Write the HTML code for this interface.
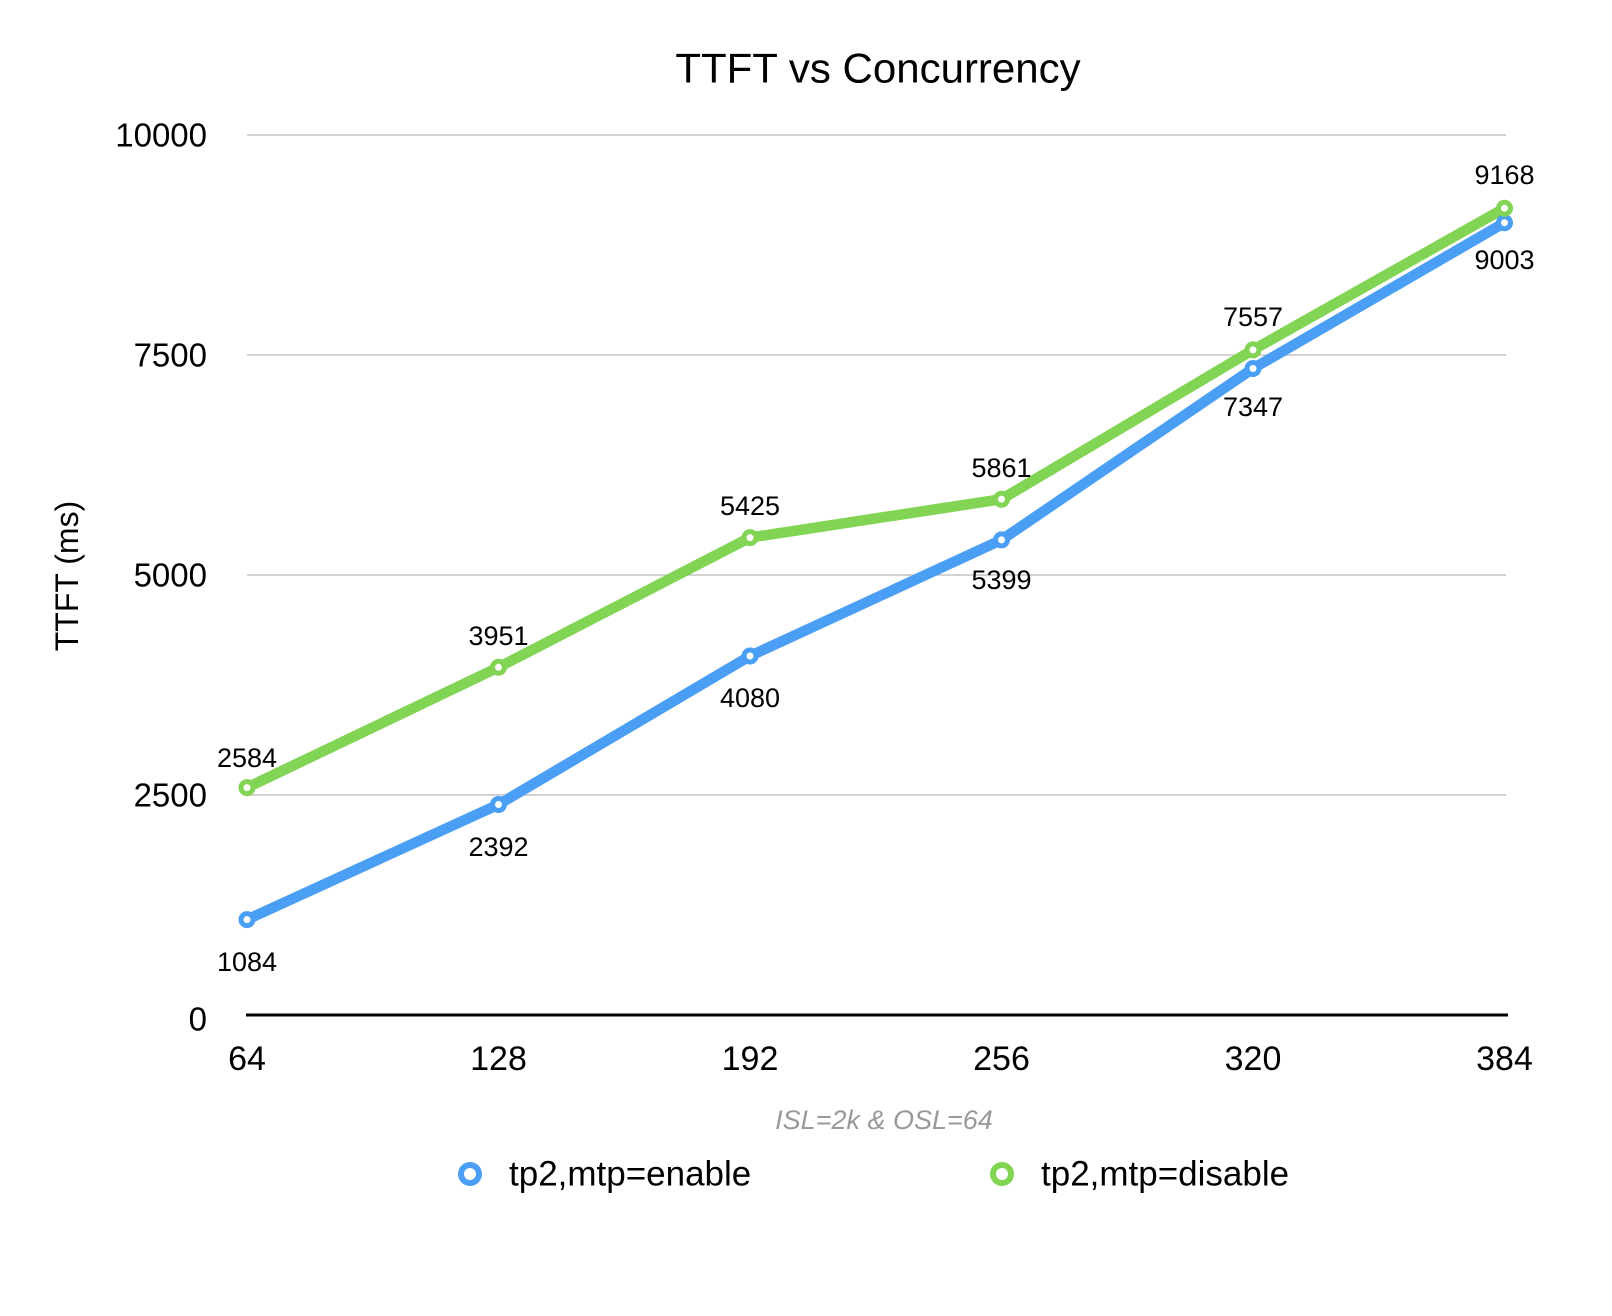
<!DOCTYPE html>
<html><head><meta charset="utf-8"><style>html,body{margin:0;padding:0;background:#fff}svg{display:block}</style></head>
<body>
<svg width="1612" height="1316" viewBox="0 0 1612 1316" xmlns="http://www.w3.org/2000/svg" font-family="Liberation Sans, sans-serif">
<rect width="1612" height="1316" fill="#fff"/>
<text x="878" y="68" font-size="42" text-anchor="middle" dominant-baseline="central">TTFT vs Concurrency</text>
<g stroke="#c4c4c4" stroke-width="1.5">
<line x1="247" x2="1506" y1="135" y2="135"/>
<line x1="247" x2="1506" y1="355" y2="355"/>
<line x1="247" x2="1506" y1="575" y2="575"/>
<line x1="247" x2="1506" y1="795" y2="795"/>
</g>
<line x1="246" x2="1508" y1="1015" y2="1015" stroke="#000" stroke-width="3"/>
<g font-size="33" text-anchor="end" dominant-baseline="central">
<text x="207" y="135">10000</text><text x="207" y="355">7500</text><text x="207" y="575">5000</text><text x="207" y="795">2500</text><text x="207" y="1019">0</text>
</g>
<g font-size="34" text-anchor="middle" dominant-baseline="central">
<text x="247" y="1059">64</text><text x="498.5" y="1059">128</text><text x="750" y="1059">192</text><text x="1001.5" y="1059">256</text><text x="1253" y="1059">320</text><text x="1504.5" y="1059">384</text>
</g>
<text transform="translate(67,576) rotate(-90)" font-size="32" text-anchor="middle" dominant-baseline="central">TTFT (ms)</text>
<text x="884" y="1120" font-size="27" font-style="italic" fill="#999" text-anchor="middle" dominant-baseline="central">ISL=2k &amp; OSL=64</text>
<g fill="none" stroke-linejoin="round" stroke-linecap="round" stroke-width="10.5">
<polyline stroke="#4a9ff5" points="247,919.6 498.5,804.5 750,656 1001.5,539.9 1253,368.5 1504.5,222.7"/>
<polyline stroke="#82d454" points="247,787.6 498.5,667.3 750,537.6 1001.5,499.2 1253,349.9 1504.5,208.2"/>
</g>
<g fill="#fff" stroke-width="5">
<g stroke="#4a9ff5"><circle cx="247" cy="919.6" r="6"/><circle cx="498.5" cy="804.5" r="6"/><circle cx="750" cy="656" r="6"/><circle cx="1001.5" cy="539.9" r="6"/><circle cx="1253" cy="368.5" r="6"/><circle cx="1504.5" cy="222.7" r="6"/></g>
<g stroke="#82d454"><circle cx="247" cy="787.6" r="6"/><circle cx="498.5" cy="667.3" r="6"/><circle cx="750" cy="537.6" r="6"/><circle cx="1001.5" cy="499.2" r="6"/><circle cx="1253" cy="349.9" r="6"/><circle cx="1504.5" cy="208.2" r="6"/></g>
</g>
<g font-size="27" text-anchor="middle" dominant-baseline="central">
<text x="247" y="962">1084</text><text x="498.5" y="847">2392</text><text x="750" y="698">4080</text><text x="1001.5" y="580">5399</text><text x="1253" y="407">7347</text><text x="1504.5" y="260">9003</text>
<text x="247" y="758">2584</text><text x="498.5" y="636">3951</text><text x="750" y="506">5425</text><text x="1001.5" y="468">5861</text><text x="1253" y="317">7557</text><text x="1504.5" y="175">9168</text>
</g>
<circle cx="470" cy="1174" r="9" fill="#fff" stroke="#4a9ff5" stroke-width="6"/>
<text x="509" y="1174" font-size="35" dominant-baseline="central">tp2,mtp=enable</text>
<circle cx="1002" cy="1174" r="9" fill="#fff" stroke="#82d454" stroke-width="6"/>
<text x="1041" y="1174" font-size="35" dominant-baseline="central">tp2,mtp=disable</text>
</svg>
</body></html>
